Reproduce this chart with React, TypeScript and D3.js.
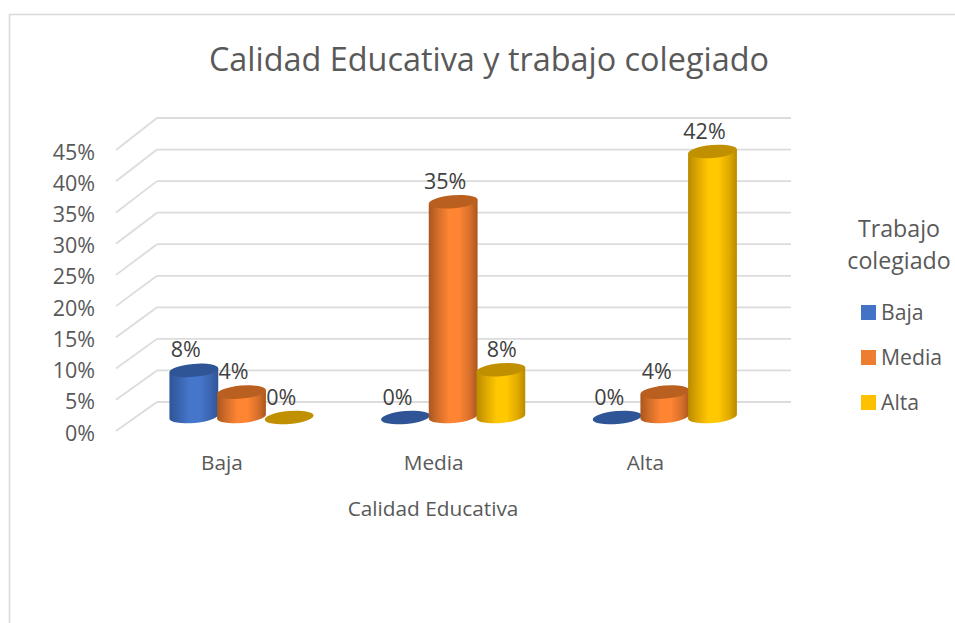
import React from "react";
import * as d3 from "d3";

const title = "Calidad Educativa y trabajo colegiado";
const categories = ["Baja", "Media", "Alta"];
const seriesNames = ["Baja", "Media", "Alta"];
const serieBaja = [7.6, 0, 0];
const serieMedia = [4.1, 34.8, 4.1];
const serieAlta = [0, 7.7, 42.9];
const labelsBaja = ["8%", "0%", "0%"];
const labelsMedia = ["4%", "35%", "4%"];
const labelsAlta = ["0%", "8%", "42%"];
const ticks = [0, 5, 10, 15, 20, 25, 30, 35, 40, 45];

const values = [serieBaja, serieMedia, serieAlta];
const labels = [labelsBaja, labelsMedia, labelsAlta];
const FONT = "'Open Sans', sans-serif";
const TXT = "#595959";
const GRID = "#dcdcdc";
const palette = [
  { id: "gb", edge: "#2f5597", soft: "#3a64ae", mid: "#4676cc", top: "#2f5597", key: "#4472c4" },
  { id: "go", edge: "#a9561f", soft: "#d56f2a", mid: "#ff8533", top: "#b95f20", key: "#ed7d31" },
  { id: "gy", edge: "#b88a00", soft: "#dfa800", mid: "#ffc800", top: "#c09000", key: "#ffc000" },
];

const backY = d3.scaleLinear().domain([0, 45]).range([402, 118]);
const frontY = d3.scaleLinear().domain([0, 45]).range([431, 150]);
const barY = d3.scaleLinear().domain([0, 45]).range([417.5, 138.5]);
const groupX = d3.scaleBand().domain(categories).range([116, 751]);
const RX = 24.5;
const RY = 6.5;
const ROT = -5;
const WALL_L = 116;
const WALL_B = 157;
const WALL_R = 791;

function App() {
  const seriesX = d3.scaleBand().domain(seriesNames).range([0, 143]);
  const cx = (c: string, s: string) => (groupX(c) as number) + 54 + (seriesX(s) as number) + seriesX.bandwidth() / 2;
  const dy = RX * Math.sin((ROT * Math.PI) / 180);
  const dx = RX * Math.cos((ROT * Math.PI) / 180);
  return (
    <svg width={955} height={623} style={{ position: "absolute", left: 0, top: 0, display: "block", background: "#fff" }} fontFamily={FONT}>
      <defs>
        {palette.map((p) => (
          <linearGradient key={p.id} id={p.id} x1="0" x2="1" y1="0" y2="0">
            <stop offset="0" stopColor={p.edge} />
            <stop offset="0.2" stopColor={p.soft} />
            <stop offset="0.42" stopColor={p.mid} />
            <stop offset="0.62" stopColor={p.mid} />
            <stop offset="0.85" stopColor={p.soft} />
            <stop offset="1" stopColor={p.edge} />
          </linearGradient>
        ))}
      </defs>
      <path d="M9.5,623V14.5H955" fill="none" stroke="#d9d9d9" strokeWidth={1.6} />
      <text x={489} y={71} textAnchor="middle" fontSize={32.4} fill={TXT}>{title}</text>
      {ticks.map((t) => (
        <g key={t}>
          <line x1={WALL_L} y1={frontY(t)} x2={WALL_B} y2={backY(t)} stroke={GRID} strokeWidth={1.8} />
          <line x1={WALL_B} y1={backY(t)} x2={WALL_R} y2={backY(t)} stroke={GRID} strokeWidth={1.8} />
          <text x={95} y={frontY(t) + 9.5} textAnchor="end" fontSize={21.5} fill={TXT}>{t}%</text>
        </g>
      ))}
      {categories.map((c, ci) =>
        seriesNames.map((s, si) => {
          const v = values[si][ci];
          const p = palette[si];
          const x = cx(c, s);
          const yt = barY(v);
          const yb = barY(0) - 1;
          const side = `M${x - dx},${yt - dy}L${x - dx},${yb - dy}A${RX},${RY} ${ROT} 0 0 ${x + dx},${yb + dy}L${x + dx},${yt + dy}Z`;
          return (
            <g key={c + s}>
              {v > 0 && <path d={side} fill={`url(#${p.id})`} />}
              <ellipse cx={x} cy={yt} rx={RX} ry={RY} fill={p.top} transform={`rotate(${ROT} ${x} ${yt})`} />
            </g>
          );
        })
      )}
      {categories.map((c, ci) =>
        seriesNames.map((s, si) => {
          const v = values[si][ci];
          const nudge = ci === 1 && si === 2 ? 1 : -8;
          return (
            <text key={c + s} x={cx(c, s) + nudge} y={barY(v) - 13} textAnchor="middle" fontSize={21.5} fill="#404040">
              {labels[si][ci]}
            </text>
          );
        })
      )}
      {categories.map((c) => (
        <text key={c} x={(groupX(c) as number) + 106} y={470} textAnchor="middle" fontSize={20.8} fill={TXT}>{c}</text>
      ))}
      <text x={433} y={516} textAnchor="middle" fontSize={20.8} fill={TXT}>Calidad Educativa</text>
      <text x={899} y={237} textAnchor="middle" fontSize={23.2} fill={TXT}>Trabajo</text>
      <text x={899} y={269} textAnchor="middle" fontSize={23.2} fill={TXT}>colegiado</text>
      {seriesNames.map((s, i) => (
        <g key={s}>
          <rect x={861} y={305 + i * 45} width={15} height={15} fill={palette[i].key} />
          <text x={881} y={320 + i * 45} fontSize={21.2} fill={TXT}>{s}</text>
        </g>
      ))}
    </svg>
  );
}

export default App;
